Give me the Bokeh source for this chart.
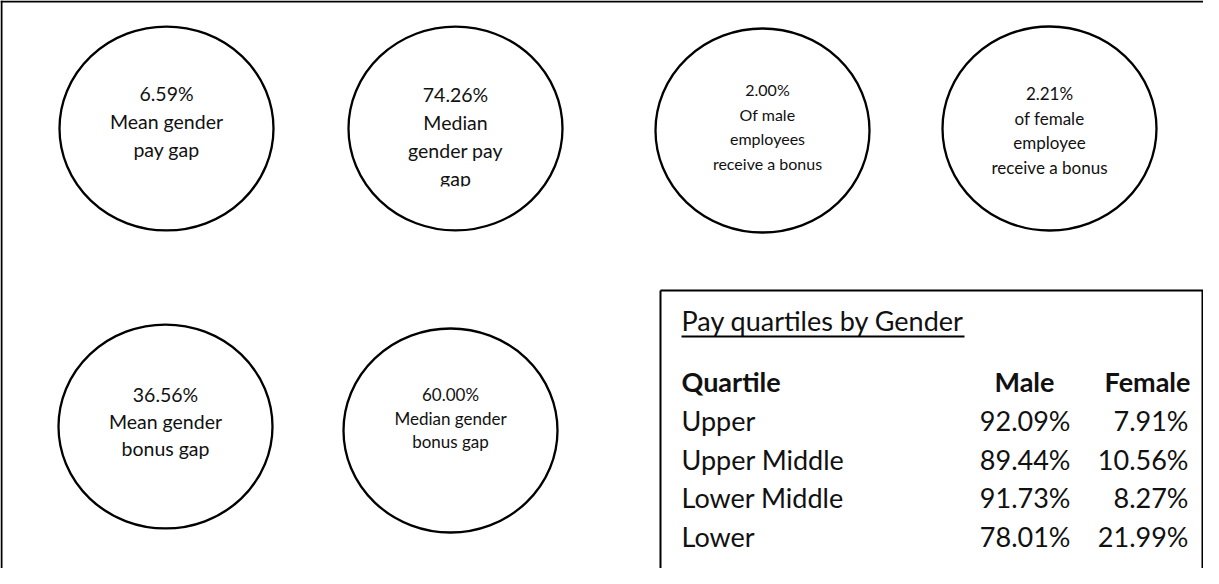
from bokeh.plotting import figure
from bokeh.models import Range1d, ColumnDataSource
from bokeh.core.properties import value
from bokeh.embed import file_html
from bokeh.resources import INLINE

# ---------------- data ----------------
metric_values = ["6.59%", "74.26%", "2.00%", "2.21%", "36.56%", "60.00%"]
metric_captions = [
    ["Mean gender", "pay gap"],
    ["Median", "gender pay", "gap"],
    ["Of male", "employees", "receive a bonus"],
    ["of female", "employee", "receive a bonus"],
    ["Mean gender", "bonus gap"],
    ["Median gender", "bonus gap"],
]
table_title = "Pay quartiles by Gender"
table_headers = ["Quartile", "Male", "Female"]
quartiles = ["Upper", "Upper Middle", "Lower Middle", "Lower"]
male_pct = ["92.09%", "89.44%", "91.73%", "78.01%"]
female_pct = ["7.91%", "10.56%", "8.27%", "21.99%"]

# ---------------- layout (pixel-like units, y grows downward) ----------------
W, H = 1203, 568
FONT = "Lato"
INK = "#111111"
circle_cx = [166, 455, 762, 1049, 165, 450]
circle_cy = [128, 128, 130, 128, 426, 430]
circle_w, circle_h = 214, 204
text_cx = [166, 455, 767, 1049, 165, 450]
first_line_y = [93, 94, 89, 93, 394, 394]
line_step = [28, 28, 24.7, 24.7, 27, 23.5]
font_px = ["19.5px", "19.5px", "16px", "17px", "19.5px", "17px"]

p = figure(width=W, height=H, output_backend="svg", toolbar_location=None,
           x_range=Range1d(0, W), y_range=Range1d(H, 0),
           min_border=0, outline_line_color=None, background_fill_color="white")
p.axis.visible = False
p.grid.visible = False

# outer frame (top and left edges)
p.segment(x0=[0, 1], y0=[1, 0], x1=[W, 1], y1=[1, H], line_color="black", line_width=2)

# circle texts
xs, ys, texts, sizes = [], [], [], []
for i, (v, caps) in enumerate(zip(metric_values, metric_captions)):
    for j, line in enumerate([v] + caps):
        xs.append(text_cx[i])
        ys.append(first_line_y[i] + j * line_step[i])
        texts.append(line)
        sizes.append(font_px[i])
src = ColumnDataSource(dict(x=xs, y=ys, text=texts, size=sizes))
p.text(x="x", y="y", text="text", source=src, text_font=value(FONT),
       text_font_size="size", text_align="center", text_baseline="middle",
       text_color=INK)

# the text box of the second badge clips its last line
last_y = first_line_y[1] + 3 * line_step[1]
p.quad(left=[text_cx[1] - 40], right=[text_cx[1] + 40],
       top=[last_y + 8], bottom=[last_y + 24],
       fill_color="white", line_color=None)

# circles
p.ellipse(x=circle_cx, y=circle_cy, width=circle_w, height=circle_h,
          fill_color=None, line_color="black", line_width=2.3)

# table box
box_left, box_top = 660, 290
p.segment(x0=[box_left, box_left, W - 1], y0=[box_top, box_top, box_top],
          x1=[W, box_left, W - 1], y1=[box_top, H, H], line_color="black", line_width=2)

# title with underline
tx = 681
p.text(x=[tx], y=[320], text=[table_title], text_font=value(FONT), text_font_size="27px",
       text_align="left", text_baseline="middle", text_color=INK)
p.segment(x0=[tx], y0=[336], x1=[964], y1=[336], line_color="black", line_width=2)

# headers
hy = 381
p.text(x=[tx], y=[hy], text=[table_headers[0]], text_font=value(FONT), text_font_size="27px",
       text_font_style="bold", text_align="left", text_baseline="middle", text_color=INK)
p.text(x=[1024], y=[hy], text=[table_headers[1]], text_font=value(FONT), text_font_size="27px",
       text_font_style="bold", text_align="center", text_baseline="middle", text_color=INK)
p.text(x=[1190], y=[hy], text=[table_headers[2]], text_font=value(FONT), text_font_size="27px",
       text_font_style="bold", text_align="right", text_baseline="middle", text_color=INK)

row_y = [420 + k * 38.7 for k in range(len(quartiles))]
p.text(x=[tx] * len(quartiles), y=row_y, text=quartiles, text_font=value(FONT),
       text_font_size="27px", text_align="left", text_baseline="middle", text_color=INK)
p.text(x=[1070] * len(male_pct), y=row_y, text=male_pct, text_font=value(FONT),
       text_font_size="27px", text_align="right", text_baseline="middle", text_color=INK)
p.text(x=[1188] * len(female_pct), y=row_y, text=female_pct, text_font=value(FONT),
       text_font_size="27px", text_align="right", text_baseline="middle", text_color=INK)

open("out.html", "w").write(file_html(p, INLINE))
